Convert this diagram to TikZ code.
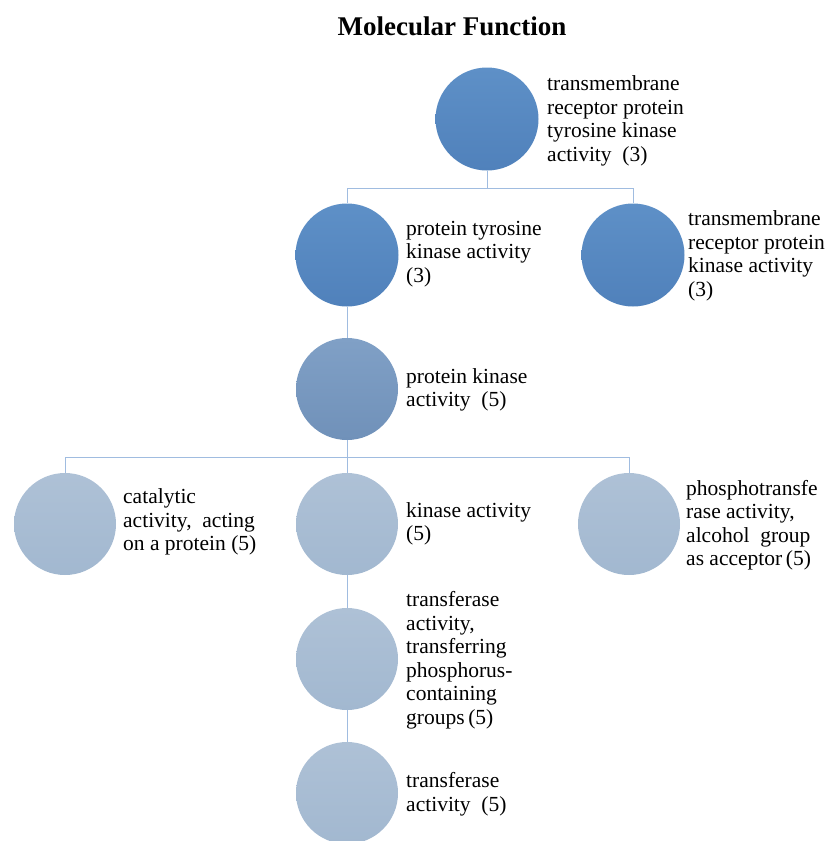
\documentclass[tikz,border=0pt]{standalone}
\usepackage{fontspec}
\setmainfont{Liberation Serif}
\begin{document}
\begin{tikzpicture}[x=1pt,y=-1pt,
  dark/.style={circle,minimum size=103pt,inner sep=0pt,top color=cA,bottom color=cB},
  mid/.style={circle,minimum size=102pt,inner sep=0pt,top color=cC,bottom color=cD},
  light/.style={circle,minimum size=102pt,inner sep=0pt,top color=cE,bottom color=cF},
  lbl/.style={anchor=west,align=left,inner sep=0pt,font=\fontsize{21.5}{23.5}\selectfont},
  conn/.style={draw=lineblue,line width=0.9pt}]
\definecolor{cA}{RGB}{94,144,199}
\definecolor{cB}{RGB}{80,129,187}
\definecolor{cC}{RGB}{128,160,198}
\definecolor{cD}{RGB}{112,145,185}
\definecolor{cE}{RGB}{174,193,214}
\definecolor{cF}{RGB}{162,184,208}
\definecolor{lineblue}{RGB}{160,188,224}
\useasboundingbox (0,0) rectangle (827,841);
\clip (0,0) rectangle (827,841);
\node[font=\fontsize{27}{30}\selectfont\bfseries] (title) at (452,26) {Molecular Function};
% circles
\node[dark] (t) at (487,119) {};
\node[dark] (a) at (347,255) {};
\node[dark] (b) at (633,255) {};
\node[mid] (p) at (347,389) {};
\node[light] (c) at (65,524) {};
\node[light] (k) at (347,524) {};
\node[light] (r) at (629,524) {};
\node[light] (f) at (347,659) {};
\node[light] (g) at (347,793) {};
% connectors
\coordinate (bus1) at (487,188);
\coordinate (bus2) at (347,457);
\draw[conn] (t.south) -- (bus1) -| (a.north);
\draw[conn] (bus1) -| (b.north);
\draw[conn] (a.south) -- (p.north);
\draw[conn] (p.south) -- (bus2) -| (c.north);
\draw[conn] (bus2) -| (r.north);
\draw[conn] (bus2) -- (k.north);
\draw[conn] (k.south) -- (f.north);
\draw[conn] (f.south) -- (g.north);
% labels
\node[lbl] (tl) at (547,121) {transmembrane\\receptor protein\\tyrosine kinase\\activity~~(3)};
\node[lbl] (al) at (406,254) {protein tyrosine\\kinase activity\\(3)};
\node[lbl] (bl) at (688,256) {transmembrane\\receptor protein\\kinase activity\\(3)};
\node[lbl] (pl) at (406,390) {protein kinase\\activity~~(5)};
\node[lbl] (cl) at (123,522) {catalytic\\activity,~ acting\\on a protein (5)};
\node[lbl] (kl) at (406,524) {kinase activity\\(5)};
\node[lbl] (rl) at (686,525) {phosphotransfe\\rase activity,\\alcohol~ group\\as acceptor\,(5)};
\node[lbl] (fl) at (406,660) {transferase\\activity,\\transferring\\phosphorus-\\containing\\groups\,(5)};
\node[lbl] (gl) at (406,794) {transferase\\activity~ (5)};
\end{tikzpicture}
\end{document}
